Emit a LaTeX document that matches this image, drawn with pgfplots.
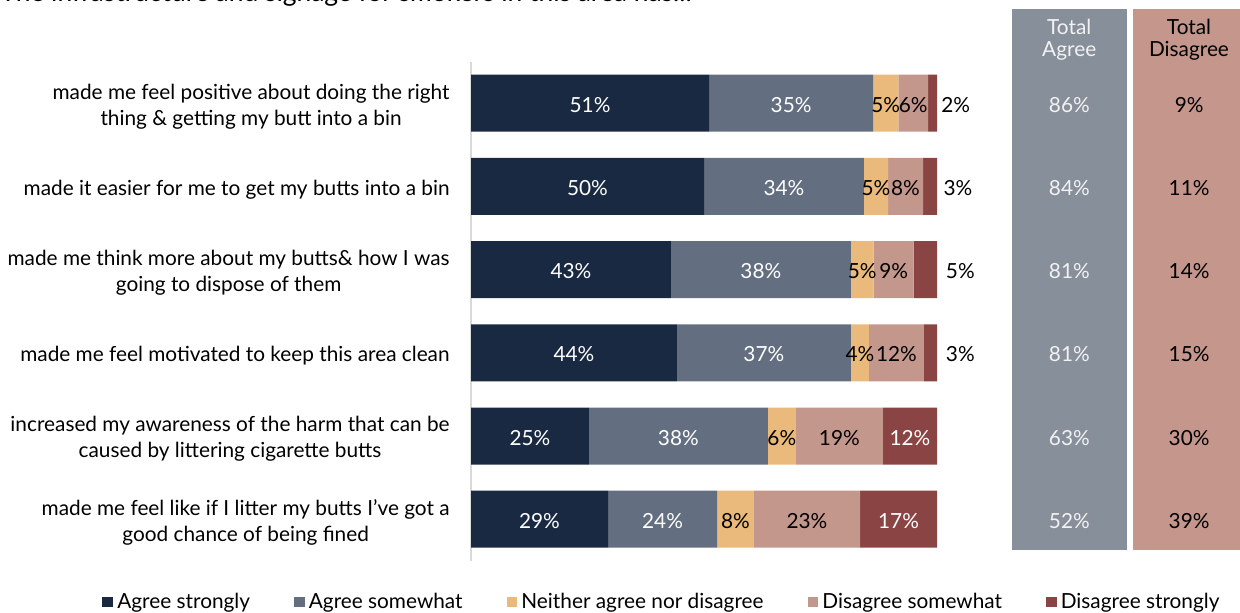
\documentclass[border=0pt]{standalone}
\usepackage{pgfplots}
\pgfplotsset{compat=1.18}
\usepackage{fontspec}
\setmainfont{Lato}
\definecolor{c1}{HTML}{1A2942}
\definecolor{c2}{HTML}{636E80}
\definecolor{c3}{HTML}{E9BA7B}
\definecolor{c4}{HTML}{C4978D}
\definecolor{c5}{HTML}{8A4444}
\definecolor{boxA}{HTML}{878F9B}
\definecolor{boxD}{HTML}{C4968C}
\newcommand{\lblfont}{\fontsize{10.4}{13}\selectfont}
\begin{document}
\begin{tikzpicture}[x=1pt,y=1pt]
% background boxes for the totals columns
\fill[boxA] ({1011.7*0.5},{(613-9.3)*0.5}) rectangle ({1126.7*0.5},{(613-550)*0.5});
\fill[boxD] ({1133.3*0.5},{(613-9.3)*0.5}) rectangle ({1250*0.5},{(613-550)*0.5});
\node[anchor=base west, inner sep=0pt, font=\fontsize{13.2}{15}\selectfont] at (0,305.5) {The infrastructure and signage for smokers in this area has...};
\node[align=center, text=white!95!black, font=\fontsize{10.4}{11}\selectfont] at ({1069.2*0.5},{(613-39.5)*0.5}) {Total\\Agree};
\node[align=center, text=black, font=\fontsize{10.4}{11}\selectfont] at ({1189*0.5},{(613-39.5)*0.5}) {Total\\Disagree};
\begin{axis}[
  at={(235.5pt,26.1pt)}, anchor=south west,
  scale only axis, width=233pt, height=249.6pt,
  xmin=0, xmax=100, ymin=0.5, ymax=6.5,
  y dir=reverse,
  xbar stacked, bar width=28.5pt,
  clip=false,
  axis x line=none,
  axis y line*=left,
  y axis line style={draw=black!15, line width=0.7pt},
  ytick={1,2,3,4,5,6},
  major tick length=0pt,
  yticklabels={{made me feel positive about doing the right\\thing \& getting my butt into a bin},
    {made it easier for me to get my butts into a bin},
    {made me think more about my butts\& how I was\\going to dispose of them},
    {made me feel motivated to keep this area clean},
    {increased my awareness of the harm that can be\\caused by littering cigarette butts},
    {made me feel like if I litter my butts I've got a\\good chance of being fined}},
  yticklabel style={align=center, font=\lblfont, inner xsep=0pt, xshift=-10.5pt, yshift=-1.6pt},
  point meta=explicit symbolic,
  nodes near coords={\pgfplotspointmeta\%},
  every node near coord/.append style={anchor=center, font=\lblfont, inner sep=0pt, yshift=-0.8pt},
  legend columns=5,
  legend style={draw=none, at={(0.412,-0.083)}, anchor=center, font=\lblfont,
    /tikz/every even column/.append style={column sep=20pt}},
  legend image code/.code={\fill[#1] (0pt,-2.6pt) rectangle (5.4pt,2.8pt);},
]
% bar lengths (the 100% stacked bars); labels are the printed values
\addplot[fill=c1, draw=none, every node near coord/.append style={text=white}] coordinates {(51.1,1)[51] (50.0,2)[50] (42.9,3)[43] (44.2,4)[44] (25.3,5)[25] (29.4,6)[29]};
\addlegendentry{Agree strongly}
\addplot[fill=c2, draw=none, every node near coord/.append style={text=white}] coordinates {(35.2,1)[35] (34.3,2)[34] (38.6,3)[38] (37.3,4)[37] (38.4,5)[38] (23.4,6)[24]};
\addlegendentry{Agree somewhat}
\addplot[fill=c3, draw=none, every node near coord/.append style={text=black}] coordinates {(5.4,1)[5] (5.2,2)[5] (4.9,3)[5] (3.9,4)[4] (6.0,5)[6] (7.9,6)[8]};
\addlegendentry{Neither agree nor disagree}
\addplot[fill=c4, draw=none, every node near coord/.append style={text=black}] coordinates {(6.4,1)[6] (7.5,2)[8] (8.6,3)[9] (11.8,4)[12] (18.7,5)[19] (22.8,6)[23]};
\addlegendentry{Disagree somewhat}
\addplot[fill=c5, draw=none, visualization depends on={value \coordindex \as \idx},
  nodes near coords={\ifnum\idx>3 \pgfplotspointmeta\%\fi},
  every node near coord/.append style={text=white}] coordinates {(1.9,1)[2] (3.0,2)[3] (5.0,3)[5] (2.8,4)[3] (11.6,5)[12] (16.5,6)[17]};
\addlegendentry{Disagree strongly}
\end{axis}
\begin{axis}[
  at={(235.5pt,26.1pt)}, anchor=south west,
  scale only axis, width=233pt, height=249.6pt,
  xmin=0, xmax=100, ymin=0.5, ymax=6.5,
  y dir=reverse, clip=false, hide axis,
  point meta=explicit symbolic,
  nodes near coords={\pgfplotspointmeta\%},
  every node near coord/.append style={anchor=center, font=\lblfont, inner sep=0pt, yshift=-0.8pt},
]
% labels of the small "Disagree strongly" segments, set outside the bars
\addplot[only marks, mark=none, every node near coord/.append style={text=black}] coordinates {(104,1)[2] (104.5,2)[3] (105,3)[5] (105,4)[3]};
% Total agree
\addplot[only marks, mark=none, every node near coord/.append style={text=white!95!black}] coordinates {(128.4,1)[86] (128.4,2)[84] (128.4,3)[81] (128.4,4)[81] (128.4,5)[63] (128.4,6)[52]};
% Total disagree
\addplot[only marks, mark=none, every node near coord/.append style={text=black}] coordinates {(154.1,1)[9] (154.1,2)[11] (154.1,3)[14] (154.1,4)[15] (154.1,5)[30] (154.1,6)[39]};
\end{axis}
\pgfresetboundingbox
\useasboundingbox (0,0) rectangle (620,306.5);
\end{tikzpicture}
\end{document}
